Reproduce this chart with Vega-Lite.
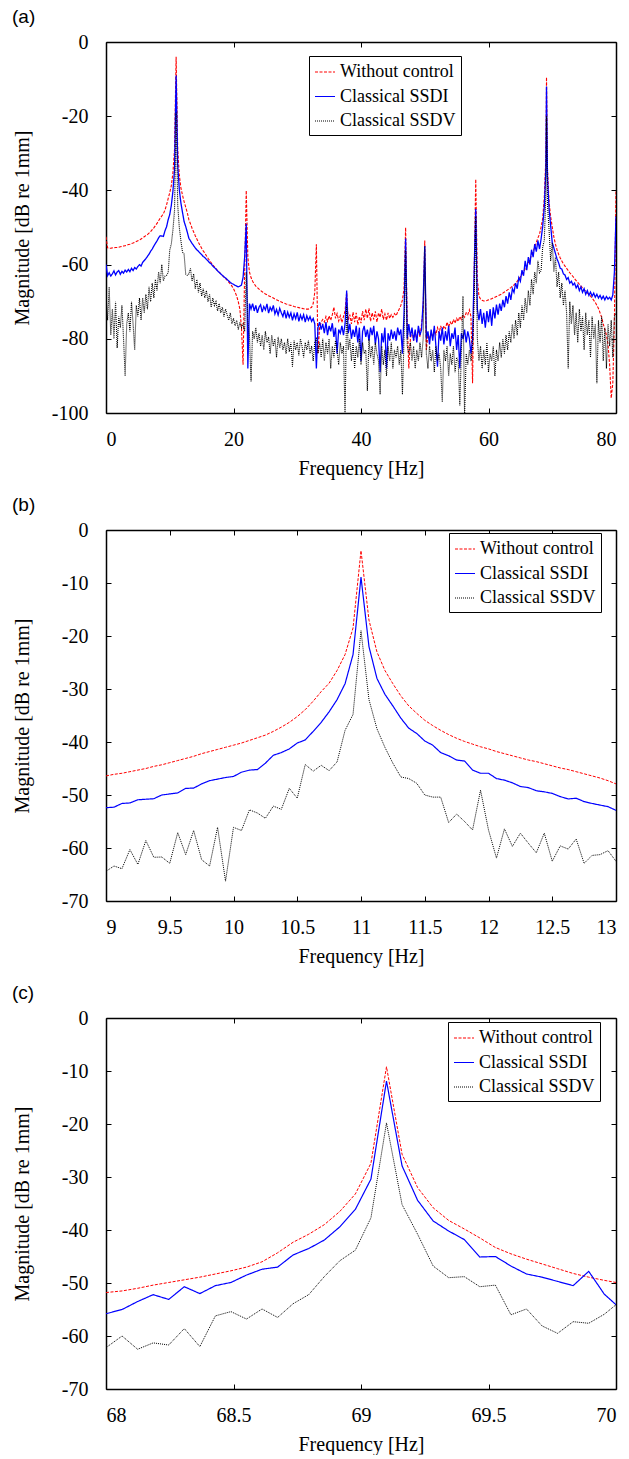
{
"$schema":"https://vega.github.io/schema/vega-lite/v6.json",
"padding":{"left":12,"top":8,"right":5,"bottom":0},
"spacing":17,
"config":{"font":"Liberation Serif","view":{"stroke":null},
"axis":{"domainColor":"black","domainWidth":1.5,"tickColor":"black","tickSize":-5,"tickWidth":1,"grid":false,"labelFont":"Liberation Serif","labelFontSize":20,"labelColor":"black","titleFont":"Liberation Serif","titleFontSize":20,"titleFontWeight":"normal","titleColor":"black"},
"axisX":{"labelPadding":21,"titlePadding":9.5},
"axisY":{"labelPadding":23},
"title":{"font":"Liberation Sans","fontSize":19,"fontWeight":"normal","color":"black","anchor":"start","frame":"group","dx":-94,"offset":5},
"legend":{"labelFont":"Liberation Serif","labelFontSize":18,"labelColor":"black","symbolType":"stroke","symbolSize":400,"symbolStrokeWidth":1.2,"strokeColor":"black","fillColor":"white","padding":5,"rowPadding":4.5,"labelOffset":4}},
"resolve":{"scale":{"color":"independent","strokeDash":"independent"},"legend":{"color":"independent","strokeDash":"independent"}},
"vconcat":[
{"title":{"text":"(a)"},"width":510,"height":371,
"data":{"values":[
{"f":0,"r":-52.5,"b":-60,"k":-68},{"f":0.25,"r":-55.5,"b":-63,"k":-75},{"f":0.5,"r":-55.6,"b":-62.2,"k":-66},{"f":0.75,"r":-55.6,"b":-63.1,"k":-79},{"f":1,"r":-55.5,"b":-62.5,"k":-72},{"f":1.25,"r":-55.5,"b":-61.7,"k":-80},{"f":1.5,"r":-55.4,"b":-62.8,"k":-70},{"f":1.75,"r":-55.4,"b":-62,"k":-82.5},{"f":2,"r":-55.3,"b":-61.6,"k":-74},{"f":2.25,"r":-55.2,"b":-62.6,"k":-77},{"f":2.5,"r":-55.1,"b":-61.8,"k":-71},{"f":2.75,"r":-55,"b":-62.3,"k":-80},{"f":3,"r":-54.9,"b":-61.5,"k":-90},{"f":3.25,"r":-54.8,"b":-62,"k":-76},{"f":3.5,"r":-54.6,"b":-61.3,"k":-73},{"f":3.75,"r":-54.5,"b":-61.9,"k":-78},{"f":4,"r":-54.3,"b":-61,"k":-70},{"f":4.25,"r":-54.2,"b":-61.6,"k":-76},{"f":4.5,"r":-54,"b":-60.8,"k":-83},{"f":4.75,"r":-53.8,"b":-61.2,"k":-71},{"f":5,"r":-53.6,"b":-60.5,"k":-74},{"f":5.25,"r":-53.4,"b":-60,"k":-69},{"f":5.5,"r":-53.1,"b":-60.4,"k":-75},{"f":5.75,"r":-52.8,"b":-59.4,"k":-69},{"f":6,"r":-52.5,"b":-58.9,"k":-73},{"f":6.25,"r":-52.2,"b":-58.4,"k":-68},{"f":6.5,"r":-51.9,"b":-57.8,"k":-72},{"f":6.75,"r":-51.5,"b":-57.2,"k":-66},{"f":7,"r":-51.1,"b":-56.4,"k":-70},{"f":7.25,"r":-50.6,"b":-55.8,"k":-65},{"f":7.5,"r":-50.1,"b":-55,"k":-69},{"f":7.75,"r":-49.5,"b":-54.3,"k":-64},{"f":8,"r":-48.9,"b":-53.6,"k":-67},{"f":8.25,"r":-48.2,"b":-52.8,"k":-62},{"f":8.5,"r":-47.5,"b":-52.2,"k":-65},{"f":8.75,"r":-46.9,"b":-52.3,"k":-60},{"f":9,"r":-46.3,"b":-52.4,"k":-64.4},{"f":9.25,"r":-45.3,"b":-50.9,"k":-63.1},{"f":9.5,"r":-43.9,"b":-49.8,"k":-62.9},{"f":9.75,"r":-42.2,"b":-47.9,"k":-62.2},{"f":10,"r":-40.6,"b":-46.5,"k":-56.1},{"f":10.25,"r":-38.7,"b":-44,"k":-54.4},{"f":10.5,"r":-35.2,"b":-40.2,"k":-50.6},{"f":10.75,"r":-28.9,"b":-34.3,"k":-45.4},{"f":11,"r":-4,"b":-9,"k":-19},{"f":11.25,"r":-29,"b":-33.2,"k":-44},{"f":11.5,"r":-35.9,"b":-39.8,"k":-50},{"f":11.75,"r":-39.3,"b":-43.4,"k":-53.6},{"f":12,"r":-41.3,"b":-45.9,"k":-56.6},{"f":12.25,"r":-43,"b":-48.4,"k":-57.2},{"f":12.5,"r":-44.5,"b":-49.7,"k":-62.5},{"f":12.75,"r":-46,"b":-51.25,"k":-62.9},{"f":13,"r":-47.9,"b":-52.9,"k":-62.5},
{"f":13.25,"r":-49,"b":-53.6,"k":-61},{"f":13.5,"r":-50.2,"b":-54.3,"k":-64.5},{"f":13.75,"r":-51.2,"b":-54.9,"k":-62.5},{"f":14,"r":-52.2,"b":-55.5,"k":-66.5},{"f":14.25,"r":-53.1,"b":-56,"k":-64},{"f":14.5,"r":-54,"b":-56.4,"k":-67.5},{"f":14.75,"r":-54.8,"b":-56.9,"k":-65},{"f":15,"r":-55.6,"b":-57.3,"k":-68.5},{"f":15.25,"r":-56.3,"b":-57.8,"k":-66.5},{"f":15.5,"r":-56.9,"b":-58.1,"k":-69},{"f":15.75,"r":-57.6,"b":-58.6,"k":-67},{"f":16,"r":-58.3,"b":-59,"k":-70},{"f":16.25,"r":-58.9,"b":-59.5,"k":-68},{"f":16.5,"r":-59.5,"b":-59.8,"k":-71.5},{"f":16.75,"r":-60.1,"b":-60.4,"k":-69},{"f":17,"r":-60.6,"b":-60.8,"k":-71},{"f":17.25,"r":-61.1,"b":-61.2,"k":-70},{"f":17.5,"r":-61.6,"b":-61.7,"k":-72.5},{"f":17.75,"r":-62,"b":-62.1,"k":-70.5},{"f":18,"r":-62.5,"b":-62.5,"k":-73},{"f":18.25,"r":-62.9,"b":-62.9,"k":-71.5},{"f":18.5,"r":-63.4,"b":-63.3,"k":-74},{"f":18.75,"r":-63.8,"b":-63.6,"k":-72},{"f":19,"r":-64.2,"b":-64,"k":-73.5},{"f":19.25,"r":-64.7,"b":-64.4,"k":-75},{"f":19.5,"r":-65.2,"b":-64.8,"k":-73},{"f":19.75,"r":-65.8,"b":-65.1,"k":-76},{"f":20,"r":-66.5,"b":-65.3,"k":-74.5},{"f":20.25,"r":-67.4,"b":-65.6,"k":-76.5},{"f":20.5,"r":-68.5,"b":-65.8,"k":-75},{"f":20.75,"r":-70,"b":-66,"k":-77.5},{"f":21,"r":-72,"b":-65.8,"k":-75.5},{"f":21.25,"r":-77,"b":-65.5,"k":-77},{"f":21.5,"r":-87,"b":-63.5,"k":-76},{"f":21.75,"r":-62,"b":-58,"k":-78},{"f":22,"r":-40,"b":-49,"k":-62},{"f":22.25,"r":-58,"b":-88,"k":-75},{"f":22.5,"r":-62,"b":-70.5,"k":-79},{"f":22.75,"r":-63.5,"b":-72,"k":-91.5},{"f":23,"r":-64.5,"b":-70.5,"k":-78},{"f":23.25,"r":-65.2,"b":-72.5,"k":-80},{"f":23.5,"r":-65.8,"b":-71,"k":-77},{"f":23.75,"r":-66.2,"b":-73,"k":-81},{"f":24,"r":-66.6,"b":-71.5,"k":-78.5},{"f":24.25,"r":-67,"b":-70.8,"k":-82},{"f":24.5,"r":-67.3,"b":-72.8,"k":-79},{"f":24.75,"r":-67.6,"b":-71.3,"k":-83},{"f":25,"r":-67.9,"b":-72.2,"k":-78},{"f":25.25,"r":-68.1,"b":-70.6,"k":-81},{"f":25.5,"r":-68.4,"b":-73.1,"k":-79.5},{"f":25.75,"r":-68.6,"b":-71.5,"k":-84},{"f":26,"r":-68.8,"b":-72.4,"k":-79},{"f":26.25,"r":-69,"b":-71,"k":-82},{"f":26.5,"r":-69.3,"b":-73.3,"k":-80},{"f":26.75,"r":-69.5,"b":-72.1,"k":-85},{"f":27,"r":-69.7,"b":-73.6,"k":-79.5},{"f":27.25,"r":-69.9,"b":-71.8,"k":-82.5},{"f":27.5,"r":-70.1,"b":-73,"k":-80},{"f":27.75,"r":-70.3,"b":-74,"k":-83},{"f":28,"r":-70.4,"b":-72.3,"k":-81},{"f":28.25,"r":-70.6,"b":-74.5,"k":-84},{"f":28.5,"r":-70.7,"b":-72.8,"k":-80},{"f":28.75,"r":-70.9,"b":-74.2,"k":-83.5},{"f":29,"r":-71,"b":-73,"k":-81},{"f":29.25,"r":-71.1,"b":-75,"k":-87.5},{"f":29.5,"r":-71.3,"b":-73.3,"k":-80.5},{"f":29.75,"r":-71.4,"b":-74.6,"k":-83},{"f":30,"r":-71.5,"b":-72.9,"k":-81},{"f":30.25,"r":-71.6,"b":-75.3,"k":-84.5},{"f":30.5,"r":-71.7,"b":-73.6,"k":-80},{"f":30.75,"r":-71.8,"b":-74.8,"k":-82},{"f":31,"r":-71.9,"b":-73.5,"k":-85},{"f":31.25,"r":-72,"b":-75.5,"k":-81},{"f":31.5,"r":-72,"b":-73.8,"k":-83},{"f":31.75,"r":-72,"b":-75,"k":-80.5},{"f":32,"r":-71.8,"b":-74,"k":-84},{"f":32.25,"r":-71.5,"b":-75.3,"k":-82},{"f":32.5,"r":-70.5,"b":-74.5,"k":-86},{"f":32.75,"r":-67.5,"b":-76,"k":-81},{"f":33,"r":-54.5,"b":-88,"k":-80},{"f":33.25,"r":-84,"b":-77,"k":-84},{"f":33.5,"r":-77,"b":-75.5,"k":-81},{"f":33.75,"r":-75.5,"b":-77.5,"k":-85},{"f":34,"r":-74.8,"b":-76,"k":-80},{"f":34.25,"r":-75.5,"b":-78.5,"k":-86},{"f":34.5,"r":-74,"b":-75.5,"k":-81},{"f":34.75,"r":-75.3,"b":-79,"k":-84},{"f":35,"r":-73.8,"b":-76.5,"k":-80},{"f":35.25,"r":-75,"b":-78,"k":-88},{"f":35.5,"r":-73.5,"b":-75.8,"k":-82},{"f":35.75,"r":-71.5,"b":-79.5,"k":-85},{"f":36,"r":-74.5,"b":-77,"k":-80.5},{"f":36.25,"r":-73.2,"b":-84,"k":-83},{"f":36.5,"r":-75.2,"b":-77.5,"k":-87},{"f":36.75,"r":-73.8,"b":-78.5,"k":-81},{"f":37,"r":-75.6,"b":-76.5,"k":-84},{"f":37.25,"r":-74,"b":-79,"k":-82},{"f":37.5,"r":-72.5,"b":-76,"k":-101},{"f":37.75,"r":-67.5,"b":-67,"k":-71},{"f":38,"r":-75,"b":-78.5,"k":-83},{"f":38.25,"r":-73.5,"b":-76,"k":-80},{"f":38.5,"r":-76,"b":-80,"k":-86},{"f":38.75,"r":-72.8,"b":-77.5,"k":-81},{"f":39,"r":-75.5,"b":-79.5,"k":-88},{"f":39.25,"r":-73,"b":-76.5,"k":-82},{"f":39.5,"r":-76.2,"b":-81,"k":-85},{"f":39.75,"r":-74,"b":-77,"k":-80},{"f":40,"r":-75.8,"b":-86,"k":-87},{"f":40.25,"r":-72.5,"b":-78,"k":-81},{"f":40.5,"r":-75,"b":-76.5,"k":-84},{"f":40.75,"r":-72,"b":-79.5,"k":-83},{"f":41,"r":-74.5,"b":-77.5,"k":-94},{"f":41.25,"r":-71.8,"b":-80.5,"k":-80},{"f":41.5,"r":-75.3,"b":-77,"k":-85},{"f":41.75,"r":-73,"b":-79,"k":-82},{"f":42,"r":-74.8,"b":-76.5,"k":-87},{"f":42.25,"r":-72.6,"b":-81.5,"k":-81},{"f":42.5,"r":-75.5,"b":-78,"k":-84},{"f":42.75,"r":-73,"b":-80,"k":-86},{"f":43,"r":-74.2,"b":-89,"k":-95},{"f":43.25,"r":-72,"b":-78.5,"k":-82},{"f":43.5,"r":-74.8,"b":-81,"k":-87},{"f":43.75,"r":-73.3,"b":-77,"k":-83},{"f":44,"r":-75,"b":-88,"k":-90},{"f":44.25,"r":-73,"b":-78.5,"k":-82},{"f":44.5,"r":-74.5,"b":-80.5,"k":-86},{"f":44.75,"r":-73.5,"b":-77.5,"k":-81},{"f":45,"r":-74.2,"b":-80,"k":-88},{"f":45.25,"r":-73.2,"b":-78,"k":-83},{"f":45.5,"r":-73.8,"b":-80.5,"k":-85},{"f":45.75,"r":-72.8,"b":-77,"k":-82},{"f":46,"r":-72,"b":-79,"k":-87},{"f":46.25,"r":-71,"b":-77.5,"k":-83},{"f":46.5,"r":-69.5,"b":-84,"k":-95},{"f":46.75,"r":-66.5,"b":-73,"k":-80},{"f":47,"r":-50,"b":-53,"k":-56},{"f":47.25,"r":-75,"b":-80,"k":-82},{"f":47.5,"r":-88,"b":-76,"k":-84},{"f":47.75,"r":-80,"b":-79.5,"k":-81},{"f":48,"r":-77.5,"b":-77,"k":-86},{"f":48.25,"r":-80.5,"b":-80.5,"k":-82},{"f":48.5,"r":-78,"b":-77.5,"k":-88},{"f":48.75,"r":-80.5,"b":-81,"k":-83},{"f":49,"r":-77.5,"b":-76.5,"k":-86},{"f":49.25,"r":-79.5,"b":-79,"k":-81},{"f":49.5,"r":-76,"b":-77.5,"k":-85},{"f":49.75,"r":-72,"b":-70,"k":-80},{"f":50,"r":-53.5,"b":-55,"k":-55},{"f":50.25,"r":-83,"b":-80,"k":-84},{"f":50.5,"r":-79,"b":-78,"k":-88},{"f":50.75,"r":-80,"b":-81.5,"k":-82},{"f":51,"r":-78.5,"b":-77.5,"k":-86},{"f":51.25,"r":-79.5,"b":-80.5,"k":-83},{"f":51.5,"r":-77.5,"b":-76.5,"k":-89},{"f":51.75,"r":-78.8,"b":-82,"k":-82},{"f":52,"r":-77,"b":-87.5,"k":-86},{"f":52.25,"r":-78.5,"b":-78,"k":-84},{"f":52.5,"r":-76.5,"b":-80.5,"k":-88},{"f":52.75,"r":-78,"b":-77,"k":-97},{"f":53,"r":-76.5,"b":-81.5,"k":-83},{"f":53.25,"r":-77.2,"b":-78,"k":-86},{"f":53.5,"r":-75.5,"b":-80.5,"k":-82},{"f":53.75,"r":-76.8,"b":-76.5,"k":-90},{"f":54,"r":-75.5,"b":-82,"k":-84},{"f":54.25,"r":-76.2,"b":-78.5,"k":-87},{"f":54.5,"r":-74.8,"b":-80,"k":-82},{"f":54.75,"r":-75.8,"b":-77,"k":-89},{"f":55,"r":-74.5,"b":-83,"k":-85},{"f":55.25,"r":-75.3,"b":-79,"k":-86},{"f":55.5,"r":-74,"b":-88,"k":-98},{"f":55.75,"r":-74.8,"b":-78.5,"k":-83},{"f":56,"r":-73.5,"b":-80,"k":-68.5},{"f":56.25,"r":-74.2,"b":-77.5,"k":-101},{"f":56.5,"r":-73,"b":-81,"k":-84},{"f":56.75,"r":-73.5,"b":-78,"k":-87},{"f":57,"r":-72.2,"b":-80,"k":-83},{"f":57.25,"r":-74,"b":-84,"k":-86},{"f":57.5,"r":-92,"b":-80,"k":-82},{"f":57.75,"r":-62,"b":-62,"k":-70},{"f":58,"r":-37,"b":-45,"k":-47},{"f":58.25,"r":-64,"b":-72,"k":-80},{"f":58.5,"r":-68.5,"b":-75,"k":-86},{"f":58.75,"r":-69.3,"b":-72,"k":-82},{"f":59,"r":-69.6,"b":-76,"k":-88},{"f":59.25,"r":-69.8,"b":-73,"k":-83},{"f":59.5,"r":-69.8,"b":-77,"k":-87},{"f":59.75,"r":-69.7,"b":-72.5,"k":-81},{"f":60,"r":-69.5,"b":-75.5,"k":-89},{"f":60.25,"r":-69.4,"b":-72,"k":-84},{"f":60.5,"r":-69.2,"b":-76.5,"k":-86},{"f":60.75,"r":-69,"b":-71.5,"k":-82},{"f":61,"r":-68.8,"b":-74.5,"k":-90},{"f":61.25,"r":-68.6,"b":-70.8,"k":-83},{"f":61.5,"r":-68.4,"b":-73.5,"k":-86},{"f":61.75,"r":-68.2,"b":-70.5,"k":-81},{"f":62,"r":-68,"b":-72.5,"k":-85},{"f":62.25,"r":-67.7,"b":-69.5,"k":-80},{"f":62.5,"r":-67.4,"b":-71.5,"k":-84},{"f":62.75,"r":-67.1,"b":-68.5,"k":-79},{"f":63,"r":-66.8,"b":-70.5,"k":-83},{"f":63.25,"r":-66.5,"b":-67.5,"k":-78},{"f":63.5,"r":-66.2,"b":-69.5,"k":-81},{"f":63.75,"r":-65.8,"b":-66.5,"k":-76},{"f":64,"r":-65.5,"b":-67.5,"k":-80},{"f":64.25,"r":-65,"b":-65,"k":-75},{"f":64.5,"r":-64.5,"b":-66.5,"k":-79},{"f":64.75,"r":-63.9,"b":-63.5,"k":-73},{"f":65,"r":-63.3,"b":-64.5,"k":-77},{"f":65.25,"r":-62.6,"b":-61.5,"k":-71},{"f":65.5,"r":-61.9,"b":-63,"k":-75},{"f":65.75,"r":-61.2,"b":-59,"k":-69},{"f":66,"r":-60.5,"b":-61.5,"k":-73},{"f":66.25,"r":-59.5,"b":-58,"k":-67},{"f":66.5,"r":-58.5,"b":-60,"k":-71},{"f":66.75,"r":-57.5,"b":-56,"k":-64},{"f":67,"r":-56.5,"b":-58,"k":-68},{"f":67.25,"r":-55.3,"b":-54.5,"k":-62},{"f":67.5,"r":-54,"b":-56.5,"k":-65},{"f":67.75,"r":-52.8,"b":-53.5,"k":-59},{"f":68,"r":-51.8,"b":-55.8,"k":-62.2},{"f":68.25,"r":-49.9,"b":-53.1,"k":-61.7},{"f":68.5,"r":-47.6,"b":-49.7,"k":-55.3},{"f":68.75,"r":-42,"b":-44.5,"k":-53.5},{"f":69,"r":-31,"b":-34,"k":-41},{"f":69.1,"r":-9.5,"b":-12,"k":-20},{"f":69.25,"r":-34,"b":-36.3,"k":-44},{"f":69.5,"r":-43,"b":-45,"k":-50.6},{"f":69.75,"r":-47.1,"b":-49.5,"k":-59},{"f":70,"r":-49.9,"b":-54.1,"k":-54.1},{"f":70.25,"r":-52.5,"b":-55.5,"k":-62},{"f":70.5,"r":-54.5,"b":-57,"k":-58},{"f":70.75,"r":-56,"b":-58.5,"k":-66},{"f":71,"r":-57.2,"b":-59.5,"k":-62},{"f":71.25,"r":-58.2,"b":-61,"k":-69},{"f":71.5,"r":-59,"b":-61.2,"k":-65},{"f":71.75,"r":-59.8,"b":-62.5,"k":-71},{"f":72,"r":-60.4,"b":-62.8,"k":-67},{"f":72.25,"r":-61,"b":-64,"k":-73},{"f":72.5,"r":-61.6,"b":-63.5,"k":-88},{"f":72.75,"r":-62.2,"b":-65,"k":-70},{"f":73,"r":-62.7,"b":-64.5,"k":-76},{"f":73.25,"r":-63.2,"b":-65.5,"k":-71},{"f":73.5,"r":-63.8,"b":-65,"k":-79},{"f":73.75,"r":-64.3,"b":-66.3,"k":-73},{"f":74,"r":-64.8,"b":-65.5,"k":-81},{"f":74.25,"r":-65.3,"b":-67,"k":-72},{"f":74.5,"r":-65.8,"b":-66,"k":-78},{"f":74.75,"r":-66.3,"b":-67.5,"k":-74},{"f":75,"r":-66.8,"b":-66.5,"k":-83},{"f":75.25,"r":-67.2,"b":-68,"k":-73},{"f":75.5,"r":-67.6,"b":-67,"k":-79},{"f":75.75,"r":-68,"b":-68.3,"k":-75},{"f":76,"r":-68.5,"b":-67.4,"k":-85},{"f":76.25,"r":-69,"b":-68.5,"k":-74},{"f":76.5,"r":-69.6,"b":-67.7,"k":-80},{"f":76.75,"r":-70.2,"b":-68.8,"k":-76},{"f":77,"r":-71,"b":-68,"k":-92},{"f":77.25,"r":-71.8,"b":-69,"k":-75},{"f":77.5,"r":-73,"b":-68.3,"k":-81},{"f":77.75,"r":-74.2,"b":-69.3,"k":-74},{"f":78,"r":-76,"b":-68.5,"k":-86},{"f":78.25,"r":-77.5,"b":-69.5,"k":-77},{"f":78.5,"r":-79,"b":-68.6,"k":-88},{"f":78.75,"r":-81.5,"b":-69.3,"k":-76},{"f":79,"r":-87,"b":-68.8,"k":-82},{"f":79.25,"r":-96,"b":-69.5,"k":-75},{"f":79.5,"r":-92,"b":-68.2,"k":-85},{"f":79.75,"r":-75,"b":-62,"k":-74},{"f":80,"r":-40,"b":-47,"k":-73}
]},
"transform":[{"fold":["r","b","k"],"as":["s","m"]}],
"encoding":{"x":{"field":"f","type":"quantitative","scale":{"domain":[0,80],"nice":false,"zero":false},"axis":null},"y":{"field":"m","type":"quantitative","scale":{"domain":[-100,0],"nice":false,"zero":false},"axis":null}},
"layer":[
{"transform":[{"filter":"datum.s=='r'"}],"mark":{"type":"line","strokeWidth":1.1,"clip":true},
"encoding":{"x":{"field":"f","type":"quantitative","axis":{"orient":"bottom","title":"Frequency [Hz]","values":[0,20,40,60,80],"labelExpr":"''+datum.value","labelFont":"Liberation Serif","titleFont":"Liberation Serif"}},
"y":{"field":"m","type":"quantitative","axis":{"orient":"left","title":"Magnitude [dB re 1mm]","values":[-100,-80,-60,-40,-20,0],"labelExpr":"''+datum.value","labelFont":"Liberation Serif","titleFont":"Liberation Serif","titleX":-84,"titleY":185.5,"titleBaseline":"middle","titleAlign":"center"}},
"color":{"field":"s","type":"nominal","scale":{"domain":["r","b","k"],"range":["#ff0000","#0000ff","#000000"]},"legend":{"title":null,"orient":"none","legendX":203,"legendY":14,"labelExpr":"datum.label=='r'?'Without control  ':datum.label=='b'?'Classical SSDI  ':'Classical SSDV  '"}},
"strokeDash":{"field":"s","type":"nominal","scale":{"domain":["r","b","k"],"range":[[3,1.5],[1,0],[1,1]]},"legend":{"title":null,"orient":"none","legendX":203,"legendY":14,"labelExpr":"datum.label=='r'?'Without control  ':datum.label=='b'?'Classical SSDI  ':'Classical SSDV  '"}}}},
{"transform":[{"filter":"datum.s=='b'"}],"mark":{"type":"line","strokeWidth":1.3,"clip":true},"encoding":{"color":{"field":"s","type":"nominal"},"strokeDash":{"field":"s","type":"nominal"}}},
{"transform":[{"filter":"datum.s=='k'"}],"mark":{"type":"line","strokeWidth":1.1,"clip":true},"encoding":{"color":{"field":"s","type":"nominal"},"strokeDash":{"field":"s","type":"nominal"}}},
{"transform":[{"filter":"datum.s=='r'"}],"mark":{"type":"line","opacity":0},
"encoding":{"x":{"field":"f","type":"quantitative","axis":{"orient":"top","title":null,"labels":false,"values":[0,20,40,60,80]}},
"y":{"field":"m","type":"quantitative","axis":{"orient":"right","title":null,"labels":false,"values":[-100,-80,-60,-40,-20,0]}}}}
],
"resolve":{"axis":{"x":"independent","y":"independent"}}},

{"title":{"text":"(b)"},"width":510,"height":371,
"data":{"values":[
{"f":9,"r":-46.4,"b":-52.4,"k":-64.4},{"f":9.0625,"r":-46.1,"b":-52.3,"k":-63.4},{"f":9.125,"r":-45.9,"b":-51.6,"k":-63.9},{"f":9.1875,"r":-45.6,"b":-51.5,"k":-60.3},{"f":9.25,"r":-45.3,"b":-50.9,"k":-63.1},{"f":9.3125,"r":-45,"b":-50.8,"k":-58.6},{"f":9.375,"r":-44.6,"b":-50.7,"k":-61.75},{"f":9.4375,"r":-44.3,"b":-50,"k":-61.7},{"f":9.5,"r":-43.9,"b":-49.8,"k":-62.9},{"f":9.5625,"r":-43.5,"b":-49.6,"k":-57.1},{"f":9.625,"r":-43.1,"b":-48.75,"k":-61.25},{"f":9.6875,"r":-42.7,"b":-48.7,"k":-56.7},{"f":9.75,"r":-42.2,"b":-47.9,"k":-62.2},{"f":9.8125,"r":-41.8,"b":-47.3,"k":-63.4},{"f":9.875,"r":-41.4,"b":-47,"k":-56.1},{"f":9.9375,"r":-41,"b":-46.7,"k":-66.25},{"f":10,"r":-40.6,"b":-46.5,"k":-56.1},{"f":10.0625,"r":-40.2,"b":-45.7,"k":-56.7},{"f":10.125,"r":-39.7,"b":-45.3,"k":-52.8},{"f":10.1875,"r":-39.2,"b":-45.2,"k":-53.4},{"f":10.25,"r":-38.7,"b":-44,"k":-54.4},{"f":10.3125,"r":-38,"b":-42.5,"k":-52.1},{"f":10.375,"r":-37.2,"b":-42,"k":-52.7},{"f":10.4375,"r":-36.3,"b":-41.3,"k":-48.75},{"f":10.5,"r":-35.2,"b":-40.2,"k":-50.6},{"f":10.5625,"r":-33.9,"b":-39.6,"k":-44.25},{"f":10.625,"r":-32.3,"b":-38,"k":-45.5},{"f":10.6875,"r":-30.5,"b":-36.3,"k":-44.4},{"f":10.75,"r":-28.9,"b":-34.3,"k":-45.4},{"f":10.8125,"r":-26.5,"b":-32,"k":-43.75},{"f":10.875,"r":-23.5,"b":-29,"k":-37.8},{"f":10.9375,"r":-18.5,"b":-23.5,"k":-34.8},{"f":11,"r":-3.9,"b":-8.9,"k":-19},{"f":11.0625,"r":-17,"b":-22,"k":-32},{"f":11.125,"r":-23,"b":-28,"k":-37.5},{"f":11.1875,"r":-26.5,"b":-31,"k":-41},{"f":11.25,"r":-29,"b":-33.2,"k":-44},{"f":11.3125,"r":-31.3,"b":-35.5,"k":-46.6},{"f":11.375,"r":-33.2,"b":-37.4,"k":-46.9},{"f":11.4375,"r":-34.6,"b":-38.4,"k":-47.8},{"f":11.5,"r":-35.9,"b":-39.8,"k":-50},{"f":11.5625,"r":-36.9,"b":-40.6,"k":-50.4},{"f":11.625,"r":-37.8,"b":-42,"k":-50.4},{"f":11.6875,"r":-38.6,"b":-42.6,"k":-55.2},{"f":11.75,"r":-39.3,"b":-43.4,"k":-53.6},{"f":11.8125,"r":-39.9,"b":-43.6,"k":-55},{"f":11.875,"r":-40.4,"b":-45.3,"k":-56.6},{"f":11.9375,"r":-40.9,"b":-45.9,"k":-49.1},{"f":12,"r":-41.3,"b":-45.9,"k":-56.6},{"f":12.0625,"r":-41.8,"b":-46.9,"k":-61.9},{"f":12.125,"r":-42.2,"b":-47.2,"k":-56.4},{"f":12.1875,"r":-42.6,"b":-47.7,"k":-59.7},{"f":12.25,"r":-43,"b":-48.4,"k":-57.2},{"f":12.3125,"r":-43.4,"b":-48.6,"k":-59.1},{"f":12.375,"r":-43.7,"b":-49.2,"k":-60.9},{"f":12.4375,"r":-44.1,"b":-49.4,"k":-57.2},{"f":12.5,"r":-44.5,"b":-49.7,"k":-62.5},{"f":12.5625,"r":-44.9,"b":-50.3,"k":-59.6},{"f":12.625,"r":-45.2,"b":-50.75,"k":-60.2},{"f":12.6875,"r":-45.6,"b":-50.6,"k":-58.3},{"f":12.75,"r":-46,"b":-51.25,"k":-62.9},{"f":12.8125,"r":-46.4,"b":-51.6,"k":-61.4},{"f":12.875,"r":-46.8,"b":-51.9,"k":-61.25},{"f":12.9375,"r":-47.3,"b":-52.2,"k":-60.5},{"f":13,"r":-47.9,"b":-52.9,"k":-62.5}
]},
"transform":[{"fold":["r","b","k"],"as":["s","m"]}],
"encoding":{"x":{"field":"f","type":"quantitative","scale":{"domain":[9,13],"nice":false,"zero":false},"axis":null},"y":{"field":"m","type":"quantitative","scale":{"domain":[-70,0],"nice":false,"zero":false},"axis":null}},
"layer":[
{"transform":[{"filter":"datum.s=='r'"}],"mark":{"type":"line","strokeWidth":1,"clip":true},
"encoding":{"x":{"field":"f","type":"quantitative","axis":{"orient":"bottom","title":"Frequency [Hz]","values":[9,9.5,10,10.5,11,11.5,12,12.5,13],"labelExpr":"''+datum.value","labelFont":"Liberation Serif","titleFont":"Liberation Serif"}},
"y":{"field":"m","type":"quantitative","axis":{"orient":"left","title":"Magnitude [dB re 1mm]","values":[-70,-60,-50,-40,-30,-20,-10,0],"labelExpr":"''+datum.value","labelFont":"Liberation Serif","titleFont":"Liberation Serif","titleX":-84,"titleY":185.5,"titleBaseline":"middle","titleAlign":"center"}},
"color":{"field":"s","type":"nominal","scale":{"domain":["r","b","k"],"range":["#ff0000","#0000ff","#000000"]},"legend":{"title":null,"orient":"none","legendX":343,"legendY":3,"labelExpr":"datum.label=='r'?'Without control ':datum.label=='b'?'Classical SSDI ':'Classical SSDV '"}},
"strokeDash":{"field":"s","type":"nominal","scale":{"domain":["r","b","k"],"range":[[3,1.5],[1,0],[1,1]]},"legend":{"title":null,"orient":"none","legendX":343,"legendY":3,"labelExpr":"datum.label=='r'?'Without control ':datum.label=='b'?'Classical SSDI ':'Classical SSDV '"}}}},
{"transform":[{"filter":"datum.s=='b'"}],"mark":{"type":"line","strokeWidth":1.2,"clip":true},"encoding":{"color":{"field":"s","type":"nominal"},"strokeDash":{"field":"s","type":"nominal"}}},
{"transform":[{"filter":"datum.s=='k'"}],"mark":{"type":"line","strokeWidth":1,"clip":true},"encoding":{"color":{"field":"s","type":"nominal"},"strokeDash":{"field":"s","type":"nominal"}}},
{"transform":[{"filter":"datum.s=='r'"}],"mark":{"type":"line","opacity":0},
"encoding":{"x":{"field":"f","type":"quantitative","axis":{"orient":"top","title":null,"labels":false,"values":[9,9.5,10,10.5,11,11.5,12,12.5,13]}},
"y":{"field":"m","type":"quantitative","axis":{"orient":"right","title":null,"labels":false,"values":[-70,-60,-50,-40,-30,-20,-10,0]}}}}
],
"resolve":{"axis":{"x":"independent","y":"independent"}}},

{"title":{"text":"(c)"},"width":510,"height":371,
"data":{"values":[
{"f":68,"r":-51.8,"b":-55.8,"k":-62.2},{"f":68.063,"r":-51.5,"b":-55,"k":-60},{"f":68.124,"r":-51,"b":-53.5,"k":-62.5},{"f":68.185,"r":-50.4,"b":-52.2,"k":-61.3},{"f":68.246,"r":-49.9,"b":-53.1,"k":-61.7},{"f":68.307,"r":-49.4,"b":-50.7,"k":-58.6},{"f":68.368,"r":-48.9,"b":-52,"k":-62},{"f":68.429,"r":-48.3,"b":-50.5,"k":-56.2},{"f":68.49,"r":-47.7,"b":-49.9,"k":-55.4},{"f":68.551,"r":-47,"b":-48.5,"k":-56.8},{"f":68.612,"r":-46,"b":-47.4,"k":-54.9},{"f":68.673,"r":-44.3,"b":-47,"k":-56.5},{"f":68.734,"r":-42.3,"b":-44.7,"k":-53.9},{"f":68.795,"r":-40.8,"b":-43.5,"k":-52.2},{"f":68.856,"r":-39,"b":-41.9,"k":-48.8},{"f":68.917,"r":-36.5,"b":-39.4,"k":-45.8},{"f":68.978,"r":-33.2,"b":-36.1,"k":-43.8},{"f":69.039,"r":-27.4,"b":-30.4,"k":-37.7},{"f":69.1,"r":-9.2,"b":-11.9,"k":-19.8},{"f":69.161,"r":-25.7,"b":-27.9,"k":-35.2},{"f":69.222,"r":-32,"b":-34.4,"k":-40.8},{"f":69.283,"r":-35.8,"b":-38.3,"k":-46.8},{"f":69.344,"r":-38.2,"b":-40.2,"k":-49},{"f":69.405,"r":-39.8,"b":-41.8,"k":-48.8},{"f":69.466,"r":-41.5,"b":-45.1,"k":-50.7},{"f":69.527,"r":-43.3,"b":-45,"k":-50.4},{"f":69.588,"r":-44.5,"b":-46.8,"k":-56},{"f":69.649,"r":-45.5,"b":-48.3,"k":-54.9},{"f":69.71,"r":-46.4,"b":-48.9,"k":-58.1},{"f":69.771,"r":-47.3,"b":-49.7,"k":-59.5},{"f":69.832,"r":-48.2,"b":-50.5,"k":-57.3},{"f":69.893,"r":-48.9,"b":-47.8,"k":-57.6},{"f":69.954,"r":-49.5,"b":-52.1,"k":-55.9},{"f":70,"r":-49.9,"b":-54.1,"k":-54.1}
]},
"transform":[{"fold":["r","b","k"],"as":["s","m"]}],
"encoding":{"x":{"field":"f","type":"quantitative","scale":{"domain":[68,70],"nice":false,"zero":false},"axis":null},"y":{"field":"m","type":"quantitative","scale":{"domain":[-70,0],"nice":false,"zero":false},"axis":null}},
"layer":[
{"transform":[{"filter":"datum.s=='r'"}],"mark":{"type":"line","strokeWidth":1,"clip":true},
"encoding":{"x":{"field":"f","type":"quantitative","axis":{"orient":"bottom","title":"Frequency [Hz]","values":[68,68.5,69,69.5,70],"labelExpr":"''+datum.value","labelFont":"Liberation Serif","titleFont":"Liberation Serif"}},
"y":{"field":"m","type":"quantitative","axis":{"orient":"left","title":"Magnitude [dB re 1mm]","values":[-70,-60,-50,-40,-30,-20,-10,0],"labelExpr":"''+datum.value","labelFont":"Liberation Serif","titleFont":"Liberation Serif","titleX":-84,"titleY":185.5,"titleBaseline":"middle","titleAlign":"center"}},
"color":{"field":"s","type":"nominal","scale":{"domain":["r","b","k"],"range":["#ff0000","#0000ff","#000000"]},"legend":{"title":null,"orient":"none","legendX":342,"legendY":4,"labelExpr":"datum.label=='r'?'Without control ':datum.label=='b'?'Classical SSDI ':'Classical SSDV '"}},
"strokeDash":{"field":"s","type":"nominal","scale":{"domain":["r","b","k"],"range":[[3,1.5],[1,0],[1,1]]},"legend":{"title":null,"orient":"none","legendX":342,"legendY":4,"labelExpr":"datum.label=='r'?'Without control ':datum.label=='b'?'Classical SSDI ':'Classical SSDV '"}}}},
{"transform":[{"filter":"datum.s=='b'"}],"mark":{"type":"line","strokeWidth":1.2,"clip":true},"encoding":{"color":{"field":"s","type":"nominal"},"strokeDash":{"field":"s","type":"nominal"}}},
{"transform":[{"filter":"datum.s=='k'"}],"mark":{"type":"line","strokeWidth":1,"clip":true},"encoding":{"color":{"field":"s","type":"nominal"},"strokeDash":{"field":"s","type":"nominal"}}},
{"transform":[{"filter":"datum.s=='r'"}],"mark":{"type":"line","opacity":0},
"encoding":{"x":{"field":"f","type":"quantitative","axis":{"orient":"top","title":null,"labels":false,"values":[68,68.5,69,69.5,70]}},
"y":{"field":"m","type":"quantitative","axis":{"orient":"right","title":null,"labels":false,"values":[-70,-60,-50,-40,-30,-20,-10,0]}}}}
],
"resolve":{"axis":{"x":"independent","y":"independent"}}}
]}
